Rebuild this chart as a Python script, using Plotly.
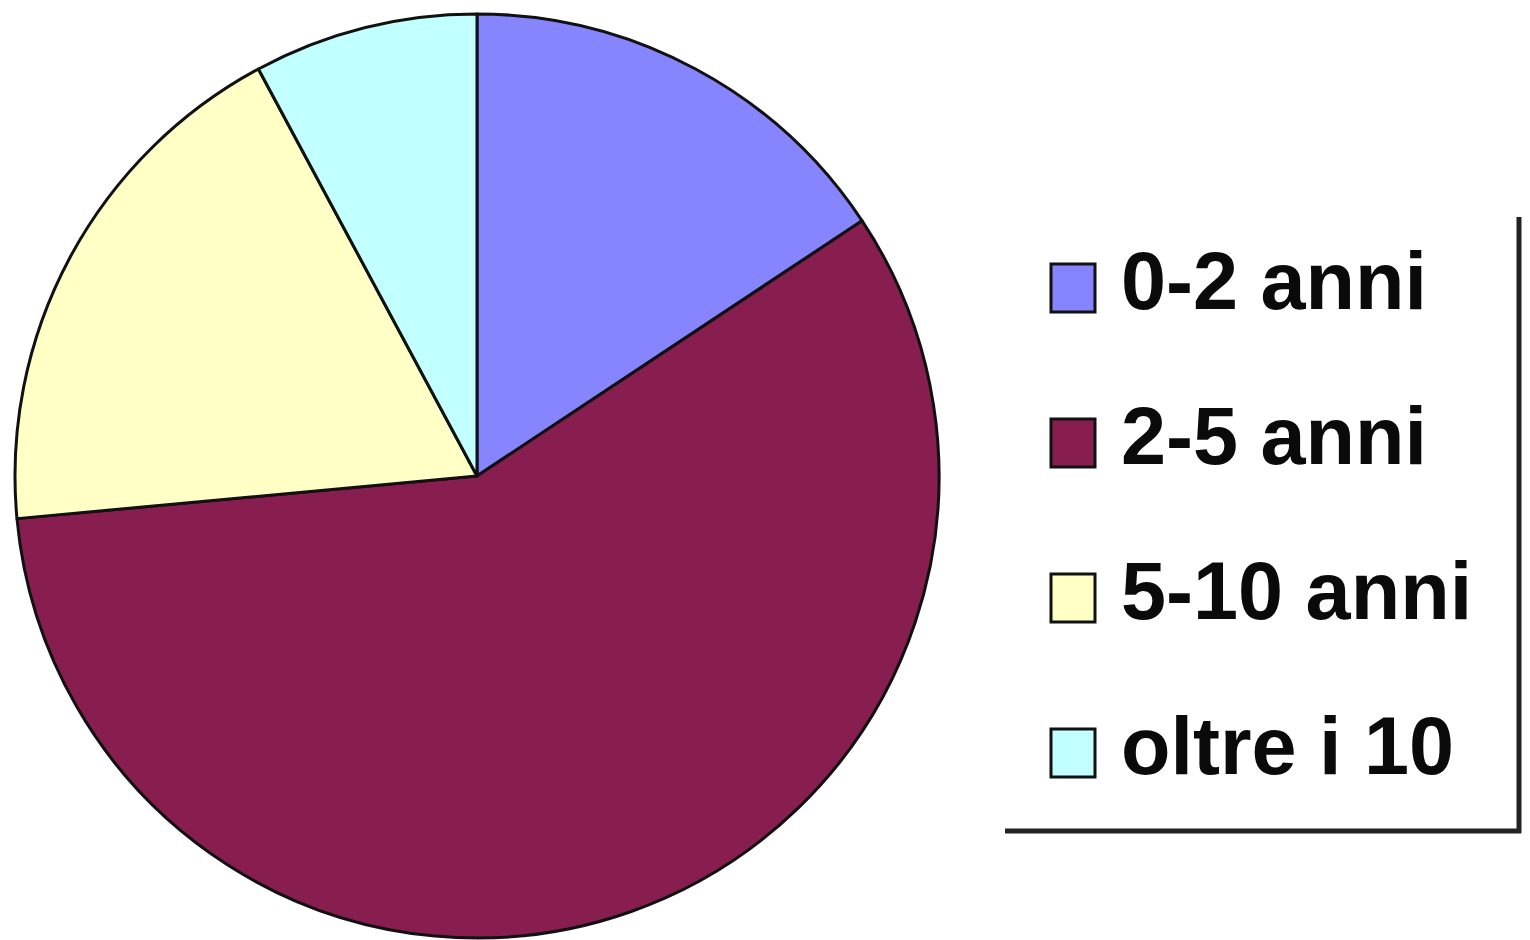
import plotly.graph_objects as go

# Anzianità di servizio: numero di persone per fascia
labels = ["0-2 anni", "2-5 anni", "5-10 anni", "oltre i 10"]
values = [16, 59, 19, 8]
colors = ["#8785FE", "#881E50", "#FFFFC6", "#C2FFFF"]

W, H = 1530, 940

def px_x(x):
    return x / W

def px_y(y):
    return 1 - y / H

fig = go.Figure(
    go.Pie(
        labels=labels,
        values=values,
        sort=False,
        direction="clockwise",
        rotation=0,
        marker=dict(colors=colors, line=dict(color="#111111", width=3)),
        textinfo="none",
        hoverinfo="label+value+percent",
        showlegend=False,
        domain=dict(x=[px_x(15), px_x(939)], y=[px_y(939), px_y(13)]),
    )
)

# Legenda disegnata a mano: quadratini colorati ed etichette in grassetto
shapes = []
annotations = []
row_top = 264
row_step = 155
box = 44
for i, (lab, col) in enumerate(zip(labels, colors)):
    y0 = row_top + i * row_step
    shapes.append(dict(
        type="rect", xref="paper", yref="paper",
        x0=px_x(1051), x1=px_x(1051 + box),
        y0=px_y(y0 + box + 4), y1=px_y(y0),
        fillcolor=col, line=dict(color="#111111", width=3),
    ))
    annotations.append(dict(
        text=f"<b>{lab}</b>", xref="paper", yref="paper",
        x=px_x(1119), y=px_y(y0 + (box + 4) / 2 - 7),
        xanchor="left", yanchor="middle", showarrow=False,
        font=dict(family="Liberation Sans, Arial, sans-serif", size=81, color="#0a0a0a"),
    ))

# Bordo della legenda (lati destro e inferiore)
shapes.append(dict(type="line", xref="paper", yref="paper",
                   x0=px_x(1519), x1=px_x(1519), y0=px_y(217), y1=px_y(833),
                   line=dict(color="#222222", width=5)))
shapes.append(dict(type="line", xref="paper", yref="paper",
                   x0=px_x(1005), x1=px_x(1521), y0=px_y(831), y1=px_y(831),
                   line=dict(color="#222222", width=5)))

fig.update_layout(
    width=W, height=H,
    margin=dict(l=0, r=0, t=0, b=0),
    paper_bgcolor="white",
    plot_bgcolor="white",
    shapes=shapes,
    annotations=annotations,
)

fig.write_html("out.html")
